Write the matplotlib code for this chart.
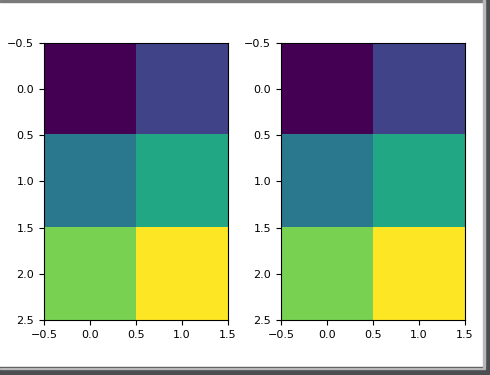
import numpy as np
import matplotlib
matplotlib.use("Agg")
import matplotlib.pyplot as plt
from matplotlib.patches import Rectangle

# 3x2 grid of values, shown twice
values = [[0, 1],
          [2, 3],
          [4, 5]]
xticks = [-0.5, 0.0, 0.5, 1.0, 1.5]
yticks = [-0.5, 0.0, 0.5, 1.0, 1.5, 2.0, 2.5]

data = np.array(values)

fig = plt.figure(figsize=(4.9, 3.75), dpi=100)
ax1 = fig.add_axes([0.0898, 0.1467, 0.3755, 0.7387])
ax2 = fig.add_axes([0.5735, 0.1467, 0.3755, 0.7387])

for ax in (ax1, ax2):
    ax.imshow(data, cmap="viridis", aspect="auto")
    ax.set_xticks(xticks)
    ax.set_yticks(yticks)
    ax.set_xlim(-0.5, 1.5)
    ax.set_ylim(2.5, -0.5)
    ax.tick_params(labelsize=8)

# window frame around the screenshot
fig.patches.append(Rectangle((0, 0.9947), 0.986, 0.0053, transform=fig.transFigure,
                             color="#7a7a7a", zorder=10))
fig.patches.append(Rectangle((0.9898, 0), 0.0102, 1, transform=fig.transFigure,
                             color="#4c4f52", zorder=10))
fig.patches.append(Rectangle((0, 0), 1, 0.0213, transform=fig.transFigure,
                             color="#4c4f52", zorder=10))
fig.patches.append(Rectangle((0.9857, 0.0213), 0.0041, 0.979, transform=fig.transFigure,
                             color="#b8b8b8", zorder=10))
fig.patches.append(Rectangle((0, 0.0147), 0.99, 0.004, transform=fig.transFigure,
                             color="#b8b8b8", zorder=11))

fig.savefig("out.png", dpi=100)
